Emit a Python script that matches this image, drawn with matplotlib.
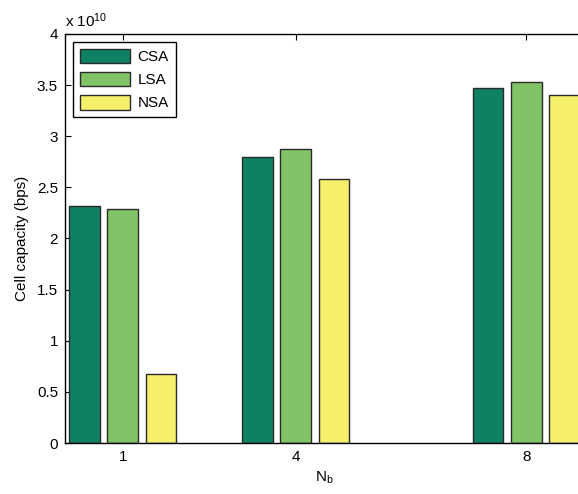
import numpy as np
import matplotlib
matplotlib.use("Agg")
import matplotlib.pyplot as plt
from matplotlib.ticker import FuncFormatter

plt.rcParams.update(
    {
        "font.family": ["Liberation Sans", "DejaVu Sans"],
        "font.size": 11,
        "mathtext.fontset": "custom",
        "mathtext.rm": "Liberation Sans",
        "mathtext.it": "Liberation Sans",
    }
)

# data (bps)
nb = [1, 4, 8]
schemes = ["CSA", "LSA", "NSA"]
csa = [2.32e10, 2.80e10, 3.47e10]
lsa = [2.29e10, 2.88e10, 3.53e10]
nsa = [0.67e10, 2.58e10, 3.40e10]

COLORS = ["#0e8063", "#80c266", "#f5ef6b"]
OFFSET = 0.666
WIDTH = 0.53

fig = plt.figure(figsize=(5.78, 4.94), dpi=100)
# axes runs past the right edge of the figure (cropped like the original)
ax = fig.add_axes([65 / 578, 51 / 494, 519 / 578, 409 / 494])

x = np.array(nb, dtype=float)
for i, (vals, name) in enumerate(zip([csa, lsa, nsa], schemes)):
    ax.bar(
        x + (i - 1) * OFFSET,
        vals,
        width=WIDTH,
        color=COLORS[i],
        edgecolor="#2a2a2a",
        linewidth=1.0,
        label=name,
    )

ax.set_axisbelow(True)
ax.set_xlim(0, 9)
ax.set_ylim(0, 4e10)
ax.set_xticks(nb)
ax.set_yticks(np.arange(0, 4.01e10, 0.5e10))
ax.yaxis.set_major_formatter(FuncFormatter(lambda v, p: f"{v / 1e10:g}"))
ax.tick_params(direction="in", top=True, right=True, length=4, width=0.8,
               labelsize=11, pad=5)
for s in ax.spines.values():
    s.set_linewidth(1.0)

ax.text(0.0, 1.01, r"x 10$^{10}$", transform=ax.transAxes, fontsize=11,
        ha="left", va="bottom")

ax.set_xlabel(r"N$_\mathregular{b}$", fontsize=11, labelpad=4)
ax.set_ylabel("Cell capacity (bps)", fontsize=11, labelpad=6)

leg = ax.legend(
    loc="upper left",
    bbox_to_anchor=(0.0, 1.0),
    borderaxespad=0.5,
    fancybox=False,
    edgecolor="black",
    framealpha=1,
    handlelength=3.3,
    handleheight=1.1,
    handletextpad=0.5,
    labelspacing=0.5,
    borderpad=0.45,
    fontsize=11,
)
leg.get_frame().set_linewidth(1.0)

fig.savefig("out.png", dpi=100)
